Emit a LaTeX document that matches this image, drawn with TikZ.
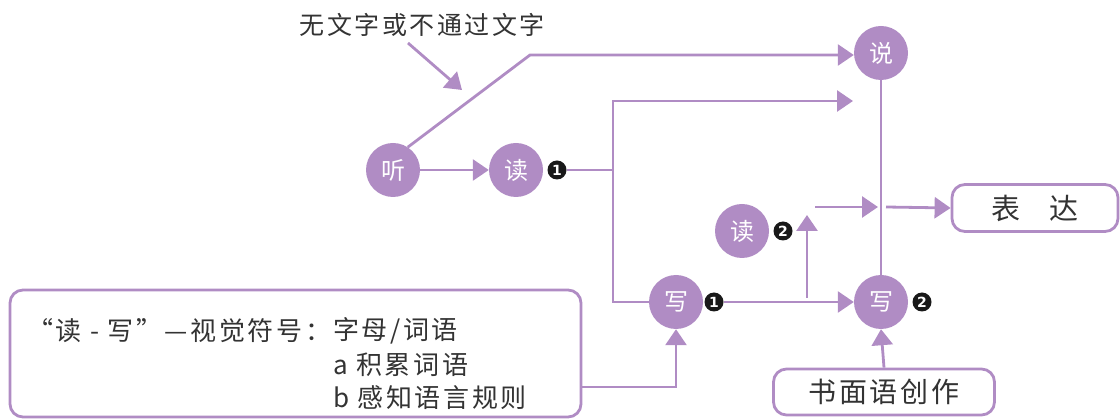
\documentclass[tikz,border=0pt]{standalone}
\usepackage{fontspec}
\setmainfont{Noto Sans CJK SC}
\newfontfamily\spaced[LetterSpace=10]{Noto Sans CJK SC}
\newfontfamily\numfont{DejaVu Sans}
\usetikzlibrary{arrows.meta}
\definecolor{pur}{HTML}{B08CC4}
\definecolor{txt}{HTML}{333333}
\tikzset{bigtip/.tip={Triangle[length=16pt,width=21pt]}}
\begin{document}
\begin{tikzpicture}[x=1pt,y=-1pt,
 line/.style={draw=pur, line width=2.8pt},
 arr/.style={line, -bigtip},
 circ/.style={circle, fill=pur, minimum size=54pt, inner sep=0pt, text=white, font=\fontsize{24}{24}\selectfont},
 bul/.style={circle, fill=black!90, minimum size=19pt, inner sep=0pt, text=white, font=\numfont\bfseries\fontsize{14}{14}\selectfont},
 rbox/.style={draw=pur, line width=2.8pt, rounded corners=13pt, inner sep=0pt},
 lab/.style={text=txt, font=\spaced\fontsize{26}{26}\selectfont, inner sep=0pt}]
\useasboundingbox (0,0) rectangle (1120,419);
% nodes
\node[circ] (ting) at (393,170) {听};
\node[circ] (du1) at (516,170) {读};
\node[bul] (n1) at (557,170) {1};
\node[circ] (shuo) at (881,53) {说};
\node[circ] (du2) at (742,231) {读};
\node[bul] (n2) at (783,231) {2};
\node[circ] (xie1) at (676,302) {写};
\node[bul] (n3) at (714,302) {1};
\node[circ] (xie2) at (881,302) {写};
\node[bul] (n4) at (922,302) {2};
\node[rbox, minimum width=166pt, minimum height=47pt, lab, font=\fontsize{29}{29}\selectfont] (biaoda) at (1035,208) {表\hspace{1.0em}达};
\node[rbox, minimum width=221pt, minimum height=46pt, lab, font=\spaced\fontsize{28}{28}\selectfont] (shumian) at (884,392) {书面语创作};
\node[rbox, minimum width=571pt, minimum height=127pt] (box) at (295.5,353.5) {};
\node[lab, anchor=west] (t1) at (27,331) {“读 - 写”—视觉符号：};
\node[lab, anchor=west] (t2) at (333,331) {字母/词语};
\node[lab, anchor=west] (t3) at (333,365) {a 积累词语};
\node[lab, anchor=west] (t4) at (333,398) {b 感知语言规则};
\node[lab, font=\spaced\fontsize{25}{25}\selectfont] (top) at (422,25) {无文字或不通过文字};
% coordinates
\coordinate (k1) at (530,55);
\coordinate (j1) at (613,170);
\coordinate (c1) at (613,101);
\coordinate (c1e) at (853,101);
\coordinate (v1) at (807,298);
\coordinate (v1e) at (807,215);
\coordinate (h1) at (815,207);
\coordinate (h1e) at (878,207);
\coordinate (h2) at (886,207);
\coordinate (b1) at (581,387);
\coordinate (a1) at (408,43);
\coordinate (a1e) at (462,90);
% connectors
\draw[arr] (ting.east) -- (du1.west);
\draw[arr] (ting.57) -- (k1) -- (k1 -| shuo.west);
\draw[line] (n1.east) -- (j1);
\draw[arr] (xie1.west) -- (xie1.west -| c1) -- (c1) -- (c1e);
\draw[arr] (n3.east) -- (xie2.west);
\draw[arr] (v1) -- (v1e);
\draw[arr] (h1) -- (h1e);
\draw[arr] (h2) -- (biaoda.west);
\draw[line] (shuo.south) -- (xie2.north);
\draw[arr] (b1) -| (xie1.south);
\draw[arr] (shumian.north) -- (xie2.south);
\draw[arr] (a1) -- (a1e);
\end{tikzpicture}
\end{document}
